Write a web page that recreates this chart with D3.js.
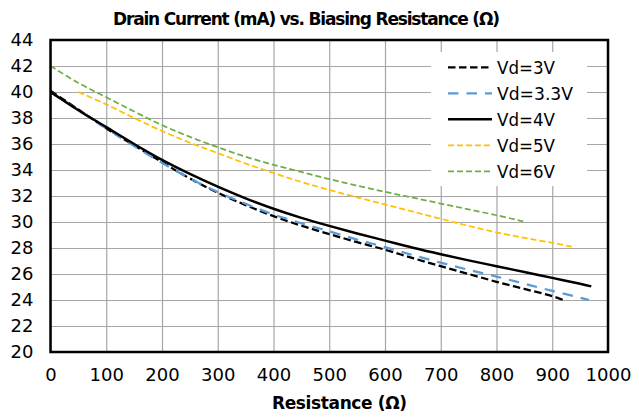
<!DOCTYPE html>
<html>
<head>
<meta charset="utf-8">
<script src="https://cdn.jsdelivr.net/npm/d3@7/dist/d3.min.js"></script>
<style>
  html, body { margin: 0; padding: 0; background: #ffffff; }
  svg { display: block; font-family: "DejaVu Sans", sans-serif; }
</style>
</head>
<body>
<svg id="chart" width="639" height="419"></svg>
<script>
// ---- data ----
const xTicks = [0, 100, 200, 300, 400, 500, 600, 700, 800, 900, 1000];
const yTicks = [20, 22, 24, 26, 28, 30, 32, 34, 36, 38, 40, 42, 44];

const r3V  = [0,50,100,150,200,250,300,350,400,450,500,550,600,650,700,750,800,850,900,923];
const i3V  = [40.1,38.65,37.2,35.9,34.6,33.35,32.25,31.3,30.45,29.72,29.07,28.45,27.87,27.22,26.6,26.0,25.4,24.85,24.3,23.95];

const r33V = [0,50,100,150,200,250,300,350,400,450,500,550,600,650,700,750,800,850,900,950,966];
const i33V = [40.0,38.6,37.2,35.85,34.55,33.35,32.3,31.4,30.58,29.9,29.28,28.65,28.07,27.45,26.87,26.32,25.8,25.25,24.7,24.18,24.0];

const r4V  = [0,50,100,150,200,250,300,350,400,450,500,550,600,650,700,750,800,850,900,950,970];
const i4V  = [40.0,38.6,37.3,36.0,34.78,33.7,32.72,31.82,31.02,30.32,29.7,29.12,28.57,28.02,27.52,27.05,26.6,26.15,25.7,25.25,25.05];

const r5V  = [50,100,150,200,250,300,350,400,450,500,550,600,650,700,750,800,850,900,935];
const i5V  = [40.0,39.05,38.0,37.0,36.1,35.3,34.5,33.77,33.08,32.47,31.9,31.35,30.8,30.25,29.7,29.2,28.78,28.4,28.1];

const r6V  = [0,50,100,150,200,250,300,350,400,450,500,550,600,650,700,750,800,848];
const i6V  = [42.0,40.7,39.6,38.5,37.45,36.55,35.75,35.02,34.4,33.85,33.3,32.8,32.32,31.87,31.42,30.97,30.52,30.05];

const seriesNames = ["Vd=3V", "Vd=3.3V", "Vd=4V", "Vd=5V", "Vd=6V"];
const titleText = "Drain Current (mA) vs. Biasing Resistance (Ω)";
const xTitleText = "Resistance (Ω)";

// ---- build ----
const series = [
  { name: seriesNames[0], r: r3V,  i: i3V,  color: "#000000", width: 2.25, dash: "7.5,3.5" },
  { name: seriesNames[1], r: r33V, i: i33V, color: "#5B9BD5", width: 2.25, dash: "10.5,8" },
  { name: seriesNames[2], r: r4V,  i: i4V,  color: "#000000", width: 2.5,  dash: null },
  { name: seriesNames[3], r: r5V,  i: i5V,  color: "#FFC000", width: 1.75, dash: "6,3" },
  { name: seriesNames[4], r: r6V,  i: i6V,  color: "#70AD47", width: 1.75, dash: "6,3" }
];

const svg = d3.select("#chart");
const L = 50.5, R = 608, T = 40, B = 352;

const x = d3.scaleLinear().domain([0, 1000]).range([L, R]);
const y = d3.scaleLinear().domain([20, 44]).range([B, T]);

svg.append("rect").attr("width", 639).attr("height", 419).attr("fill", "#fff");

// gridlines
const gx = svg.append("g").attr("transform", `translate(0,${B})`)
  .call(d3.axisBottom(x).tickValues(xTicks).tickSize(-(B - T)).tickFormat(""));
gx.select(".domain").remove();
gx.selectAll("line").attr("stroke", "#a6a6a6").attr("stroke-width", 1.2);

const gy = svg.append("g").attr("transform", `translate(${L},0)`)
  .call(d3.axisLeft(y).tickValues(yTicks).tickSize(-(R - L)).tickFormat(""));
gy.select(".domain").remove();
gy.selectAll("line").attr("stroke", "#a6a6a6").attr("stroke-width", 1.2);

// tick labels
const ax = svg.append("g").attr("transform", `translate(0,${B})`)
  .call(d3.axisBottom(x).tickValues(xTicks).tickSize(0).tickPadding(16).tickFormat(d3.format("d")));
ax.select(".domain").remove();
ax.selectAll("text").attr("font-family", "DejaVu Sans").attr("font-size", 18).attr("fill", "#000");

const ay = svg.append("g").attr("transform", `translate(${L},0)`)
  .call(d3.axisLeft(y).tickValues(yTicks).tickSize(0).tickPadding(17).tickFormat(d3.format("d")));
ay.select(".domain").remove();
ay.selectAll("text").attr("font-family", "DejaVu Sans").attr("font-size", 18).attr("fill", "#000");

// lines
const line = d3.line().x(d => x(d[0])).y(d => y(d[1])).curve(d3.curveCatmullRom.alpha(0.5));
series.forEach(s => {
  const pts = s.r.map((rv, k) => [rv, s.i[k]]);
  const p = svg.append("path").datum(pts).attr("d", line)
    .attr("fill", "none").attr("stroke", s.color).attr("stroke-width", s.width)
    .attr("stroke-linejoin", "round");
  if (s.dash) p.attr("stroke-dasharray", s.dash);
});

// plot border
svg.append("rect").attr("x", L).attr("y", T).attr("width", R - L).attr("height", B - T)
  .attr("fill", "none").attr("stroke", "#000").attr("stroke-width", 2.5);

// legend
const lg = svg.append("g");
lg.append("rect").attr("x", 431).attr("y", 52).attr("width", 156).attr("height", 134).attr("fill", "#fff");
series.forEach((s, k) => {
  const cy = 67.3 + 26 * k;
  const ln = lg.append("line").attr("x1", 448).attr("x2", 492).attr("y1", cy).attr("y2", cy)
    .attr("stroke", s.color).attr("stroke-width", s.width);
  if (s.dash) ln.attr("stroke-dasharray", s.dash);
  lg.append("text").attr("x", 497).attr("y", cy + 6.5)
    .attr("font-family", "DejaVu Sans").attr("font-size", 18).attr("fill", "#000")
    .attr("textLength", s.name.length > 5 ? 76 : 58).attr("lengthAdjust", "spacingAndGlyphs")
    .text(s.name);
});

// titles
svg.append("text").attr("x", 113).attr("y", 25)
  .attr("font-family", "DejaVu Sans").attr("font-weight", "bold").attr("font-size", 17).attr("fill", "#000")
  .attr("textLength", 387).attr("lengthAdjust", "spacing")
  .text(titleText);

svg.append("text").attr("x", 272).attr("y", 409)
  .attr("font-family", "DejaVu Sans").attr("font-weight", "bold").attr("font-size", 17).attr("fill", "#000")
  .attr("textLength", 135).attr("lengthAdjust", "spacing")
  .text(xTitleText);
</script>
</body>
</html>
